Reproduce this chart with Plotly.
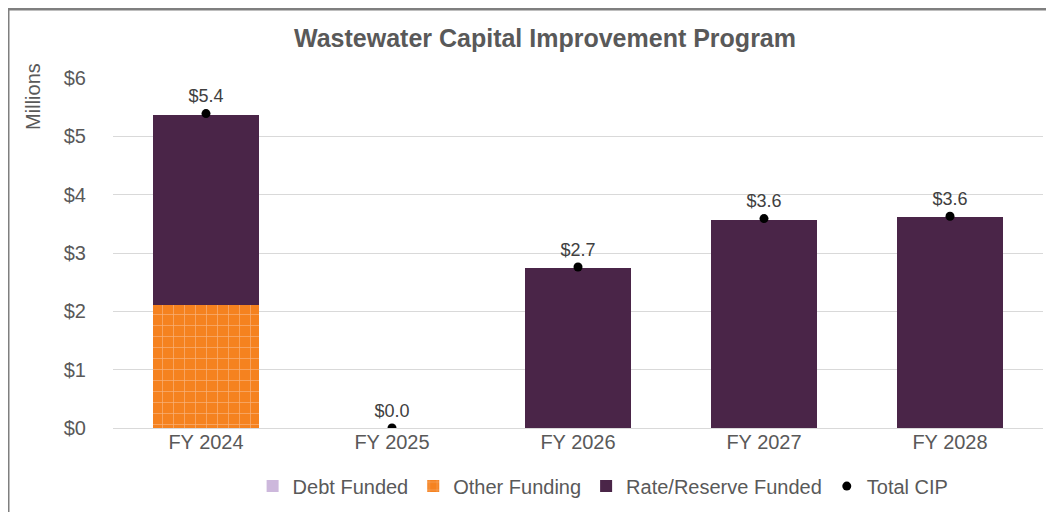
import plotly.graph_objects as go

categories = ["FY 2024", "FY 2025", "FY 2026", "FY 2027", "FY 2028"]
debt_funded = [0, 0, 0, 0, 0]
other_funding = [2.11, 0, 0, 0, 0]
rate_reserve = [3.26, 0, 2.74, 3.57, 3.61]
total_cip = [5.39, 0.0, 2.76, 3.59, 3.63]
total_labels = ["$5.4", "$0.0", "$2.7", "$3.6", "$3.6"]
y_ticks = [0, 1, 2, 3, 4, 5, 6]
y_tick_labels = ["$0", "$1", "$2", "$3", "$4", "$5", "$6"]

fig = go.Figure()
fig.add_trace(go.Bar(x=categories, y=debt_funded, name="Debt Funded",
                     marker=dict(color="#CDB8DC", line=dict(width=0))))
fig.add_trace(go.Bar(x=categories, y=other_funding, name="Other Funding",
                     marker=dict(color="#F5821F", line=dict(width=0),
                                 pattern=dict(shape="+", fgcolor="#F7B27C", bgcolor="#F5821F",
                                              size=11, solidity=0.12, fillmode="replace"))))
fig.add_trace(go.Bar(x=categories, y=rate_reserve, name="Rate/Reserve Funded",
                     marker=dict(color="#4A2548", line=dict(width=0))))
fig.add_trace(go.Scatter(x=categories, y=total_cip, name="Total CIP", mode="markers+text",
                         marker=dict(color="black", size=9),
                         text=total_labels, textposition="top center",
                         textfont=dict(size=18, color="#404040", family="Liberation Sans")))

fig.update_layout(
    barmode="stack",
    bargap=0.43,
    width=1054, height=512,
    margin=dict(l=105, r=19, t=70, b=92, autoexpand=False),
    paper_bgcolor="white", plot_bgcolor="white",
    font=dict(family="Liberation Sans", color="#595959", size=19),
    title=dict(text="<b>Wastewater Capital Improvement Program</b>", x=0.5095, xanchor="center",
               y=0.941, yanchor="middle", font=dict(size=25, color="#595959")),
    showlegend=True,
    legend=dict(orientation="h", x=0.527, xanchor="center", y=-0.166, yanchor="middle",
                font=dict(size=20, color="#595959"), itemwidth=30, tracegroupgap=0,
                traceorder="normal"),
    xaxis=dict(showgrid=False, showline=False, ticks="", tickfont=dict(size=20, color="#595959")),
    yaxis=dict(range=[0, 6], tickvals=y_ticks, ticktext=y_tick_labels, showgrid=True,
               gridcolor="#D9D9D9", gridwidth=1.3, zeroline=True, zerolinecolor="#D9D9D9",
               zerolinewidth=1.3, showline=False, ticks="outside", tickcolor="white", ticklen=22,
               tickfont=dict(size=20, color="#595959")),
    annotations=[dict(text="Millions", textangle=-90, x=-0.086, y=0.946, xref="paper", yref="paper",
                      showarrow=False, font=dict(size=20, color="#595959"), xanchor="center",
                      yanchor="middle")],
    shapes=[dict(type="rect", xref="paper", yref="paper", x0=-0.1129, y0=-0.3, x1=1.05, y1=1.197,
                 line=dict(color="#7F7F7F", width=3), layer="below")],
)

fig.write_html("out.html")
